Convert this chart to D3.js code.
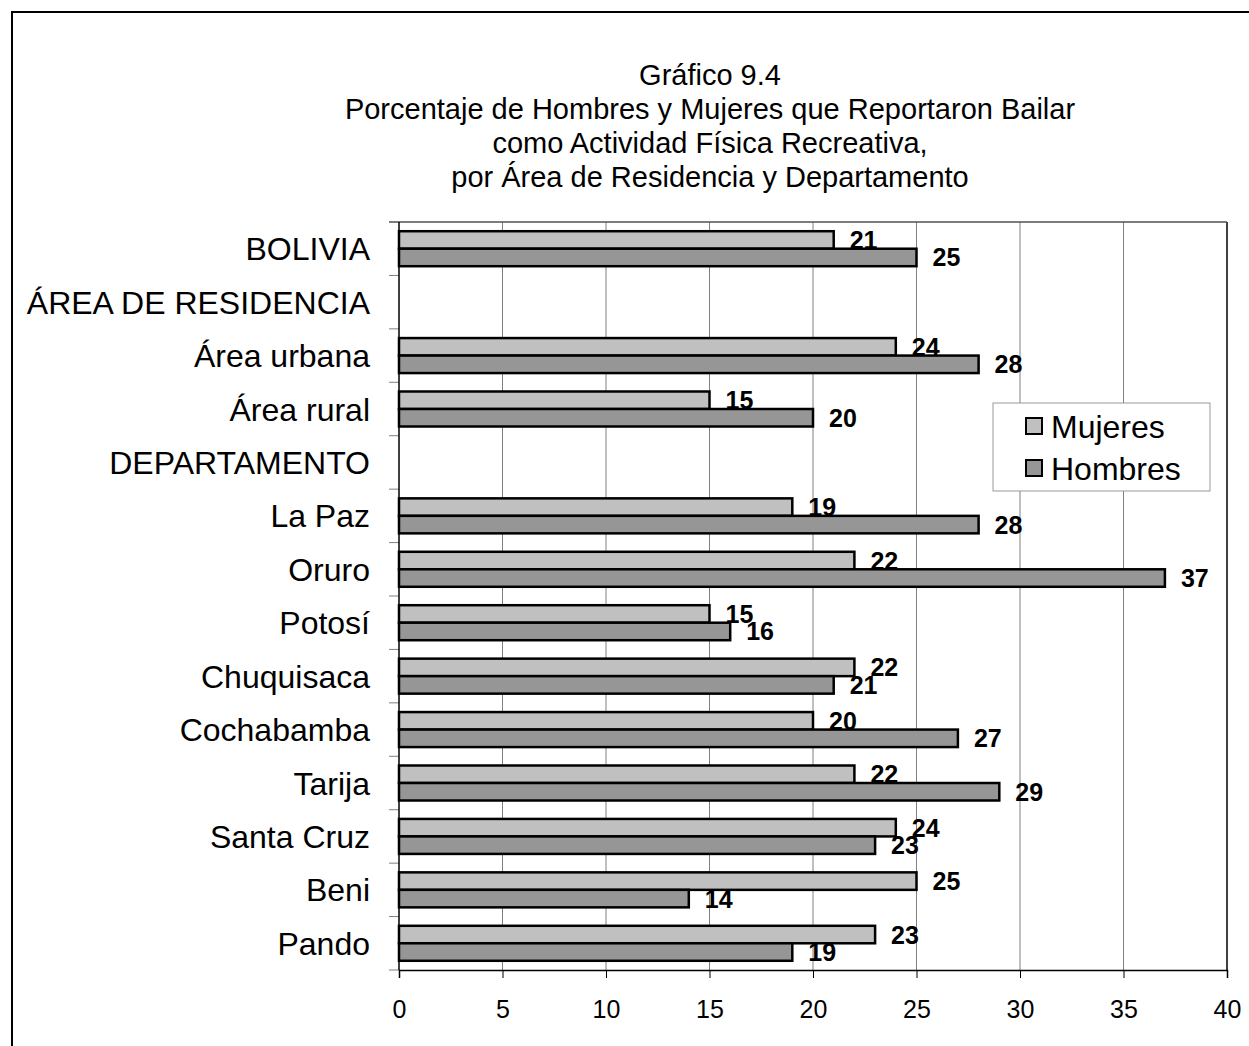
<!DOCTYPE html>
<html>
<head>
<meta charset="utf-8">
<script src="https://cdnjs.cloudflare.com/ajax/libs/d3/7.8.5/d3.min.js"></script>
<style>
  body { margin: 0; background: #fff; }
  text { font-family: "Liberation Sans", Arial, sans-serif; }
</style>
</head>
<body>
<script>
// categories top to bottom
let categories = ["BOLIVIA", "ÁREA DE RESIDENCIA", "Área urbana", "Área rural", "DEPARTAMENTO",
  "La Paz", "Oruro", "Potosí", "Chuquisaca", "Cochabamba", "Tarija", "Santa Cruz", "Beni", "Pando"];
// null = header row without bars
let mujeres = [21, null, 24, 15, null, 19, 22, 15, 22, 20, 22, 24, 25, 23];
let hombres = [25, null, 28, 20, null, 28, 37, 16, 21, 27, 29, 23, 14, 19];
let seriesNames = ["Mujeres", "Hombres"];
let seriesColors = ["#c0c0c0", "#969696"];
let xTicks = [0, 5, 10, 15, 20, 25, 30, 35, 40];
let titleLines = ["Gráfico 9.4",
  "Porcentaje de Hombres y Mujeres que Reportaron Bailar",
  "como Actividad Física Recreativa,",
  "por Área de Residencia y Departamento"];

let width = 1249, height = 1046;
let plot = {left: 399, right: 1227, top: 222, bottom: 970};

let svg = d3.select("body").append("svg")
    .attr("width", width)
    .attr("height", height);

// outer frame
svg.append("rect")
    .attr("x", 12).attr("y", 12)
    .attr("width", 1260).attr("height", 1060)
    .attr("fill", "none").attr("stroke", "#000").attr("stroke-width", 2);

// title
svg.append("g").selectAll("text")
    .data(titleLines)
  .enter().append("text")
    .attr("x", 710)
    .attr("y", (d, i) => 85 + i * 34)
    .attr("text-anchor", "middle")
    .style("font-size", "29px")
    .text(d => d);

let xScale = d3.scaleLinear().domain([0, 40]).range([plot.left, plot.right]);
let yScale = d3.scaleBand().domain(categories).range([plot.top, plot.bottom]).padding(0);
let barPad = (yScale.bandwidth() - 35) / 2;
let ySub = d3.scaleBand().domain(seriesNames).range([barPad, yScale.bandwidth() - barPad]);

// vertical gridlines
svg.append("g").selectAll("line")
    .data(xTicks.slice(1))
  .enter().append("line")
    .attr("x1", d => xScale(d)).attr("x2", d => xScale(d))
    .attr("y1", plot.top).attr("y2", plot.bottom)
    .attr("stroke", d => d === 40 ? "#000" : "#808080")
    .attr("stroke-width", d => d === 40 ? 1.5 : 1);

// top border of plot area
svg.append("line")
    .attr("x1", plot.left - 10).attr("x2", plot.right)
    .attr("y1", plot.top).attr("y2", plot.top)
    .attr("stroke", "#505050").attr("stroke-width", 1.5);

// y ticks at row boundaries
let boundaries = categories.map(c => yScale(c)).concat([plot.bottom]);
svg.append("g").selectAll("line")
    .data(boundaries.slice(1))
  .enter().append("line")
    .attr("x1", plot.left - 10).attr("x2", plot.left)
    .attr("y1", d => d).attr("y2", d => d)
    .attr("stroke", "#808080").attr("stroke-width", 1);

// bars
let rows = categories.map((c, i) => ({cat: c, vals: [mujeres[i], hombres[i]]}));
let barData = [];
rows.forEach(r => r.vals.forEach((v, j) => {
  if (v !== null) barData.push({cat: r.cat, series: seriesNames[j], color: seriesColors[j], value: v});
}));

svg.append("g").selectAll("rect")
    .data(barData)
  .enter().append("rect")
    .attr("x", xScale(0))
    .attr("y", d => yScale(d.cat) + ySub(d.series))
    .attr("width", d => xScale(d.value) - xScale(0))
    .attr("height", ySub.bandwidth())
    .attr("fill", d => d.color)
    .attr("stroke", "#000")
    .attr("stroke-width", 2.5);

// value labels
svg.append("g").selectAll("text")
    .data(barData)
  .enter().append("text")
    .attr("x", d => xScale(d.value) + 16)
    .attr("y", d => yScale(d.cat) + ySub(d.series) + ySub.bandwidth() / 2)
    .attr("dy", "0.36em")
    .style("font-size", "25px")
    .style("font-weight", "bold")
    .text(d => d.value);

// y axis line
svg.append("line")
    .attr("x1", plot.left).attr("x2", plot.left)
    .attr("y1", plot.top).attr("y2", plot.bottom)
    .attr("stroke", "#000").attr("stroke-width", 1.5);

// category labels
svg.append("g").selectAll("text")
    .data(categories)
  .enter().append("text")
    .attr("x", 370)
    .attr("y", d => yScale(d) + yScale.bandwidth() / 2)
    .attr("dy", "0.36em")
    .attr("text-anchor", "end")
    .style("font-size", "32px")
    .text(d => d);

// x axis
let xAxis = d3.axisBottom(xScale).tickValues(xTicks).tickSize(8).tickPadding(22);
let gx = svg.append("g")
    .attr("transform", "translate(0," + plot.bottom + ")")
    .call(xAxis);
gx.select(".domain").attr("stroke", "#000").attr("stroke-width", 1.5);
gx.selectAll(".tick line").attr("stroke", "#000");
gx.selectAll(".tick text")
    .style("font-size", "25px")
    .style("font-family", "'Liberation Sans', Arial, sans-serif")
    .attr("fill", "#000");

// legend
let legend = svg.append("g").attr("transform", "translate(993,403)");
legend.append("rect")
    .attr("width", 217).attr("height", 88)
    .attr("fill", "#fff").attr("stroke", "#999").attr("stroke-width", 1);
let items = legend.selectAll(".item")
    .data(seriesNames)
  .enter().append("g")
    .attr("transform", (d, i) => "translate(33," + (15 + i * 42) + ")");
items.append("rect")
    .attr("width", 16).attr("height", 16)
    .attr("fill", (d, i) => seriesColors[i])
    .attr("stroke", "#000").attr("stroke-width", 2);
items.append("text")
    .attr("x", 25).attr("y", 8)
    .attr("dy", "0.36em")
    .style("font-size", "32px")
    .text(d => d);
</script>
</body>
</html>
